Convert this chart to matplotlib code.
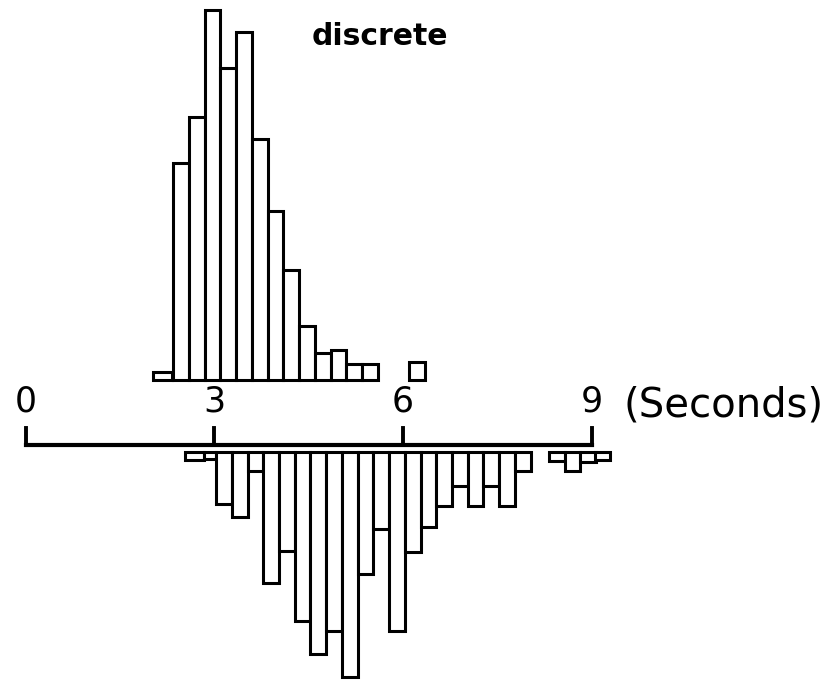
import numpy as np
import matplotlib.pyplot as plt

# upper histogram ("discrete"), bin left edges in seconds and bar heights
top_left = [2.02, 2.35, 2.60, 2.85, 3.10, 3.35, 3.60, 3.85, 4.10, 4.35, 4.60,
            4.85, 5.10, 5.35, 6.10]
top_width = [0.31, 0.25, 0.25, 0.25, 0.25, 0.25, 0.25, 0.25, 0.25, 0.25, 0.25,
             0.25, 0.25, 0.25, 0.25]
top_counts = [8, 217, 263, 370, 312, 348, 241, 169, 110, 54, 27, 30, 16, 16, 18]

# lower histogram (hanging below the time axis)
bot_left = [2.54, 2.83, 3.03, 3.28, 3.53, 3.78, 4.03, 4.28, 4.53, 4.78, 5.03,
            5.28, 5.53, 5.78, 6.03, 6.28, 6.53, 6.78, 7.03, 7.28, 7.53, 7.78,
            8.32, 8.57, 8.82, 9.05]
bot_width = [0.29, 0.20] + [0.25] * 24
bot_counts = [8, 7, 52, 65, 19, 131, 99, 169, 202, 179, 225, 122, 77, 179,
              100, 75, 54, 34, 54, 34, 54, 19, 9, 19, 10, 8]

ticks = [0, 3, 6, 9]

fig = plt.figure(figsize=(8.34, 6.84), dpi=100)
ax = fig.add_axes([0, 0, 1, 1])
ax.set_xlim(-25.5 / 62.9, (834 - 25.5) / 62.9)
ax.set_ylim(-239, 445)
ax.axis('off')

lw = 2.2
ax.bar(top_left, top_counts, width=top_width, bottom=65, align='edge',
       color='white', edgecolor='black', linewidth=lw, zorder=2)
ax.bar(bot_left, [-c for c in bot_counts], width=bot_width, bottom=-7,
       align='edge', color='white', edgecolor='black', linewidth=lw, zorder=2)

# time axis with upward ticks
ax.plot([0, 9], [0, 0], color='black', lw=3, solid_capstyle='projecting', zorder=3)
for t in ticks:
    ax.plot([t, t], [0, 17], color='black', lw=2.8, zorder=3)
    ax.text(t, 44, str(t), ha='center', va='center', fontsize=25,
            family='DejaVu Sans')
ax.text(9.5, 39, '(Seconds)', ha='left', va='center', fontsize=29,
        family='DejaVu Sans')

ax.text(5.63, 400, 'discrete', ha='center', va='baseline', fontsize=21.5,
        fontweight='bold', family='DejaVu Sans')

fig.savefig('out.png', dpi=100, facecolor='white')
